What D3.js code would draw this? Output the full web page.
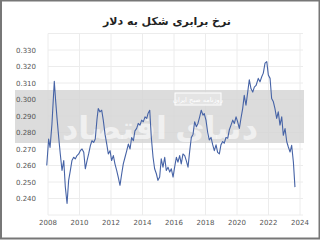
<!DOCTYPE html>
<html>
<head>
<meta charset="utf-8">
<script src="https://cdn.jsdelivr.net/npm/d3@7"></script>
<style>
  body { margin: 0; background: #fff; }
  svg { display: block; font-family: "DejaVu Sans", "Noto Sans", sans-serif; }
</style>
</head>
<body>
<div id="visArea"></div>
<script>

var chartTitle = 'نرخ برابری شکل به دلار';

// decimal year of each reading
var years = [2007.92, 2008.04, 2008.13, 2008.25, 2008.40, 2008.48, 2008.57, 2008.68, 2008.78, 2008.89,
  2009.00, 2009.10, 2009.21, 2009.31, 2009.42, 2009.52, 2009.63, 2009.73, 2009.84, 2009.95,
  2010.05, 2010.16, 2010.27, 2010.37, 2010.48, 2010.58, 2010.69, 2010.79, 2010.90, 2011.00,
  2011.11, 2011.19, 2011.30, 2011.41, 2011.51, 2011.62, 2011.73, 2011.83, 2011.94, 2012.04,
  2012.15, 2012.25, 2012.36, 2012.46, 2012.57, 2012.68, 2012.78, 2012.89, 2013.00, 2013.10,
  2013.21, 2013.31, 2013.42, 2013.52, 2013.63, 2013.73, 2013.84, 2013.95, 2014.05, 2014.16,
  2014.27, 2014.35, 2014.46, 2014.56, 2014.67, 2014.77, 2014.88, 2014.98, 2015.09, 2015.19,
  2015.30, 2015.41, 2015.51, 2015.62, 2015.73, 2015.83, 2015.94, 2016.04, 2016.15, 2016.25,
  2016.36, 2016.46, 2016.57, 2016.68, 2016.78, 2016.89, 2017.00, 2017.10, 2017.21, 2017.31,
  2017.42, 2017.52, 2017.63, 2017.73, 2017.84, 2017.92, 2018.03, 2018.14, 2018.24, 2018.35,
  2018.46, 2018.56, 2018.67, 2018.77, 2018.88, 2018.98, 2019.09, 2019.19, 2019.30, 2019.41,
  2019.51, 2019.62, 2019.73, 2019.83, 2019.94, 2020.04, 2020.15, 2020.25, 2020.36, 2020.46,
  2020.57, 2020.68, 2020.78, 2020.89, 2021.00, 2021.10, 2021.21, 2021.35, 2021.46, 2021.57,
  2021.67, 2021.78, 2021.89, 2021.99, 2022.10, 2022.20, 2022.31, 2022.41, 2022.52, 2022.62,
  2022.73, 2022.84, 2022.94, 2023.05, 2023.16, 2023.26, 2023.37, 2023.47, 2023.58, 2023.68];

// shekel to dollar rate
var rates = [0.260, 0.276, 0.271, 0.285, 0.311, 0.300, 0.289, 0.277, 0.267, 0.257,
  0.263, 0.247, 0.237, 0.251, 0.257, 0.263, 0.265, 0.264, 0.266, 0.267,
  0.269, 0.270, 0.268, 0.258, 0.263, 0.267, 0.272, 0.275, 0.274, 0.276,
  0.288, 0.2945, 0.2925, 0.2935, 0.2875, 0.279, 0.273, 0.267, 0.269, 0.263,
  0.266, 0.261, 0.257, 0.253, 0.248, 0.255, 0.261, 0.265, 0.269, 0.273,
  0.270, 0.277, 0.275, 0.281, 0.2825, 0.2855, 0.2845, 0.2875, 0.2865, 0.2895,
  0.2885, 0.2915, 0.2935, 0.277, 0.265, 0.258, 0.255, 0.251, 0.253, 0.264,
  0.259, 0.265, 0.257, 0.259, 0.256, 0.258, 0.253, 0.259, 0.265, 0.262,
  0.266, 0.261, 0.267, 0.266, 0.263, 0.259, 0.269, 0.277, 0.279, 0.2865,
  0.2835, 0.2855, 0.2895, 0.2935, 0.2905, 0.2915, 0.2875, 0.280, 0.2755, 0.277,
  0.2725, 0.269, 0.2725, 0.268, 0.267, 0.2725, 0.2745, 0.2735, 0.277, 0.2765,
  0.2815, 0.2845, 0.2875, 0.2855, 0.2895, 0.2865, 0.2825, 0.2885, 0.2945, 0.3025,
  0.2965, 0.3045, 0.312, 0.3065, 0.3045, 0.3075, 0.3085, 0.3128, 0.3107, 0.3138,
  0.316, 0.322, 0.323, 0.3148, 0.3128, 0.3006, 0.2986, 0.2945, 0.2885, 0.2925,
  0.2845, 0.2895, 0.2783, 0.2824, 0.2744, 0.2712, 0.2682, 0.2722, 0.2621, 0.2469];

var yTicks = [0.240, 0.250, 0.260, 0.270, 0.280, 0.290, 0.300, 0.310, 0.320, 0.330];
var xTicks = [2008, 2010, 2012, 2014, 2016, 2018, 2020, 2022, 2024];


function drawChart(){
  var w = 320, h = 240;
  var svg = d3.select('#visArea').append('svg')
              .attr('width', w)
              .attr('height', h);

  svg.append('rect').attr('width', w).attr('height', h).attr('fill', '#fff');

  var x = d3.scaleLinear().domain([2008, 2024]).range([48, 300]);
  var y = d3.scaleLinear().domain([0.230, 0.340]).range([215, 33.5]);

  // grid
  var grid = svg.append('g').attr('class', 'grid');
  grid.selectAll('line.h')
    .data(yTicks.concat([0.230, 0.340]))
    .enter().append('line')
    .attr('x1', 48).attr('x2', 303)
    .attr('y1', function(d){ return y(d); })
    .attr('y2', function(d){ return y(d); })
    .style('stroke', '#ececec').style('stroke-width', 1);
  grid.selectAll('line.v')
    .data(xTicks)
    .enter().append('line')
    .attr('x1', function(d){ return x(d); })
    .attr('x2', function(d){ return x(d); })
    .attr('y1', y(0.340)).attr('y2', y(0.230))
    .style('stroke', '#ececec').style('stroke-width', 1);

  // watermark band
  var wm = svg.append('g').attr('class', 'watermark');
  wm.append('rect')
    .attr('x', 15).attr('y', 90).attr('width', 289).attr('height', 53)
    .attr('fill', '#d6d6d6').attr('opacity', 0.85);
  wm.append('text')
    .attr('x', 160).attr('y', 139)
    .attr('text-anchor', 'middle')
    .attr('direction', 'rtl')
    .style('font-family', '"Noto Sans", "DejaVu Sans", sans-serif')
    .style('font-size', '32px').style('font-weight', 'bold')
    .attr('fill', '#fff').attr('fill-opacity', 0.6)
    .text('دنیای اقتصاد');
  wm.append('rect')
    .attr('x', 175).attr('y', 93).attr('width', 46).attr('height', 12)
    .attr('fill', '#e4e4e4').attr('stroke', '#fff').attr('stroke-width', 1);
  wm.append('text')
    .attr('x', 198).attr('y', 102)
    .attr('text-anchor', 'middle')
    .attr('direction', 'rtl')
    .style('font-size', '6.5px')
    .attr('fill', '#fff')
    .text('روزنامه صبح ایران');

  // line
  var pts = years.map(function(t, i){ return [t, rates[i]]; });
  var line = d3.line()
    .x(function(d){ return x(d[0]); })
    .y(function(d){ return y(d[1]); });
  svg.append('path')
    .datum(pts)
    .attr('d', line)
    .attr('fill', 'none')
    .style('stroke', '#4663a6')
    .style('stroke-width', 1.1)
    .style('stroke-linejoin', 'round');

  // y labels
  svg.append('g').attr('class', 'labels').selectAll('text')
    .data(yTicks)
    .enter().append('text')
    .attr('x', 36)
    .attr('y', function(d){ return y(d) + 2.5; })
    .attr('text-anchor', 'end')
    .style('font-size', '7px')
    .style('fill', '#555')
    .text(function(d){ return d3.format('.3f')(d); });

  // x labels
  svg.append('g').attr('class', 'labels').selectAll('text')
    .data(xTicks)
    .enter().append('text')
    .attr('x', function(d){ return x(d); })
    .attr('y', 225)
    .attr('text-anchor', 'middle')
    .style('font-size', '7px')
    .style('fill', '#555')
    .text(function(d){ return d; });

  // title
  svg.append('text')
    .attr('x', 167).attr('y', 25)
    .attr('text-anchor', 'middle')
    .attr('direction', 'rtl')
    .style('font-size', '11px').style('font-weight', 'bold')
    .style('fill', '#222')
    .text(chartTitle);

  // frame
  svg.append('rect')
    .attr('x', 1).attr('y', 0.5).attr('width', w - 1.5).attr('height', h - 2)
    .attr('fill', 'none').style('stroke', '#777').style('stroke-width', 2);
}

drawChart();
</script>
</body>
</html>
